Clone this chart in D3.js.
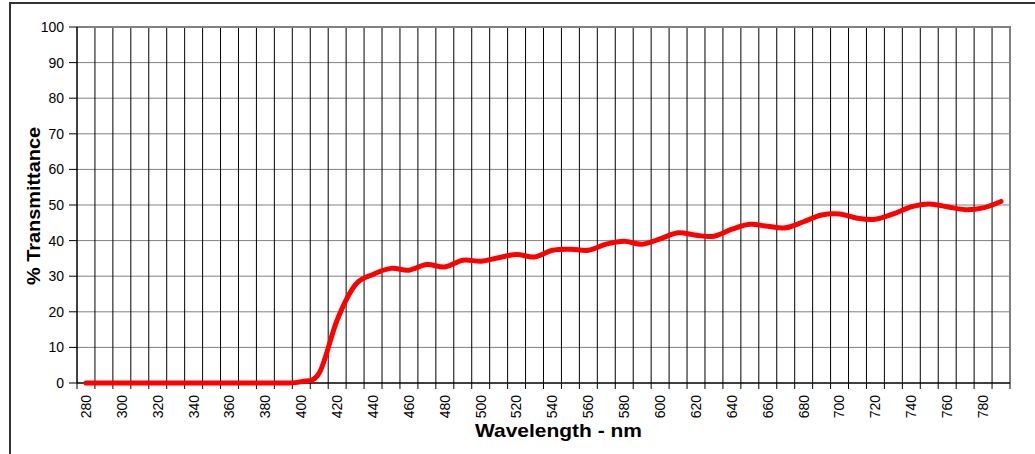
<!DOCTYPE html>
<html>
<head>
<meta charset="utf-8">
<script src="https://cdn.jsdelivr.net/npm/d3@7"></script>
<style>
  html, body { margin: 0; padding: 0; background: #fff; }
  svg { display: block; font-family: "Liberation Sans", Arial, sans-serif; }
</style>
</head>
<body>
<svg id="chart" width="1035" height="454"></svg>
<script>
// Wavelength categories (nm), one every 10 nm
const wavelengths = d3.range(280, 800, 10);
// % transmittance at each wavelength
const transmittance = [
  0, 0, 0, 0, 0, 0, 0, 0, 0, 0, 0, 0,
  0.4, 2.8, 17.7, 27.5, 30.5, 32.2, 31.7, 33.3, 32.6, 34.5,
  34.2, 35.2, 36.1, 35.4, 37.3, 37.6, 37.3, 39, 39.8, 39,
  40.5, 42.2, 41.5, 41.2, 43.2, 44.6, 44, 43.6, 45.3, 47.2,
  47.5, 46.3, 46, 47.5, 49.5, 50.3, 49.5, 48.7, 49.2, 51
];
// Labelled wavelengths along the x axis
const xTickLabels = d3.range(280, 800, 20);
// Y axis tick values
const yTicks = d3.range(0, 101, 10);

const svg = d3.select("#chart");
const plotLeft = 77, plotRight = 1010, plotTop = 27, plotBottom = 383;

const x = d3.scaleBand().domain(wavelengths).range([plotLeft, plotRight]).padding(0);
const y = d3.scaleLinear().domain([0, 100]).range([plotBottom, plotTop]);
const bw = x.bandwidth();
const cx = d => x(d) + bw / 2;

// outer chart frame
svg.append("rect")
  .attr("x", 10).attr("y", 3).attr("width", 1040).attr("height", 470)
  .attr("fill", "none").attr("stroke", "#333").attr("stroke-width", 2);

// horizontal gridlines
svg.append("g").selectAll("line").data(yTicks.filter(v => v > 0)).join("line")
  .attr("x1", plotLeft).attr("x2", plotRight)
  .attr("y1", d => y(d)).attr("y2", d => y(d))
  .attr("stroke", "#808080").attr("stroke-width", 1);

// vertical gridlines at category boundaries
const bounds = wavelengths.map(d => x(d)).concat([plotRight]);
svg.append("g").selectAll("line").data(bounds.slice(1, -1)).join("line")
  .attr("x1", d => d).attr("x2", d => d)
  .attr("y1", plotTop).attr("y2", plotBottom)
  .attr("stroke", "#000").attr("stroke-width", 1);

// plot area border (top / right)
svg.append("path")
  .attr("d", `M${plotLeft},${plotTop}H${plotRight}V${plotBottom}`)
  .attr("fill", "none").attr("stroke", "#808080").attr("stroke-width", 2);

// x axis: tick marks between categories, labels every 20 nm
const xAxis = svg.append("g");
xAxis.append("line")
  .attr("x1", plotLeft).attr("x2", plotRight).attr("y1", plotBottom).attr("y2", plotBottom)
  .attr("stroke", "#000").attr("stroke-width", 1.5);
xAxis.selectAll("line.tick").data(bounds).join("line").attr("class", "tick")
  .attr("x1", d => d).attr("x2", d => d).attr("y1", plotBottom).attr("y2", plotBottom + 6)
  .attr("stroke", "#000").attr("stroke-width", 1);
xAxis.selectAll("text").data(xTickLabels).join("text")
  .attr("transform", d => `translate(${cx(d)},${plotBottom + 12}) rotate(-90)`)
  .attr("text-anchor", "end").attr("dy", "0.35em")
  .attr("font-size", 14).attr("fill", "#000")
  .text(d => d);

// y axis
const yAxis = svg.append("g");
yAxis.append("line")
  .attr("x1", plotLeft).attr("x2", plotLeft).attr("y1", plotTop).attr("y2", plotBottom)
  .attr("stroke", "#000").attr("stroke-width", 1.5);
yAxis.selectAll("line.tick").data(yTicks).join("line").attr("class", "tick")
  .attr("x1", plotLeft - 8).attr("x2", plotLeft).attr("y1", d => y(d)).attr("y2", d => y(d))
  .attr("stroke", "#000").attr("stroke-width", 1);
yAxis.selectAll("text").data(yTicks).join("text")
  .attr("x", 64).attr("y", d => y(d)).attr("dy", "0.35em")
  .attr("text-anchor", "end").attr("font-size", 14).attr("fill", "#000")
  .text(d => d);

// transmittance curve (smoothed)
const line = d3.line()
  .x((d, i) => cx(wavelengths[i]))
  .y(d => y(d))
  .curve(d3.curveCatmullRom.alpha(0));
svg.append("path")
  .datum(transmittance)
  .attr("d", line)
  .attr("fill", "none").attr("stroke", "#ff0000").attr("stroke-width", 5)
  .attr("stroke-linejoin", "round").attr("stroke-linecap", "round");

// axis titles
svg.append("text")
  .attr("x", 558.5).attr("y", 437)
  .attr("text-anchor", "middle").attr("font-size", 19).attr("font-weight", "bold")
  .attr("textLength", 167).attr("lengthAdjust", "spacingAndGlyphs")
  .text("Wavelength - nm");
svg.append("text")
  .attr("transform", "translate(40,206) rotate(-90)")
  .attr("text-anchor", "middle").attr("font-size", 19).attr("font-weight", "bold")
  .attr("textLength", 158).attr("lengthAdjust", "spacingAndGlyphs")
  .text("% Transmittance");
</script>
</body>
</html>
